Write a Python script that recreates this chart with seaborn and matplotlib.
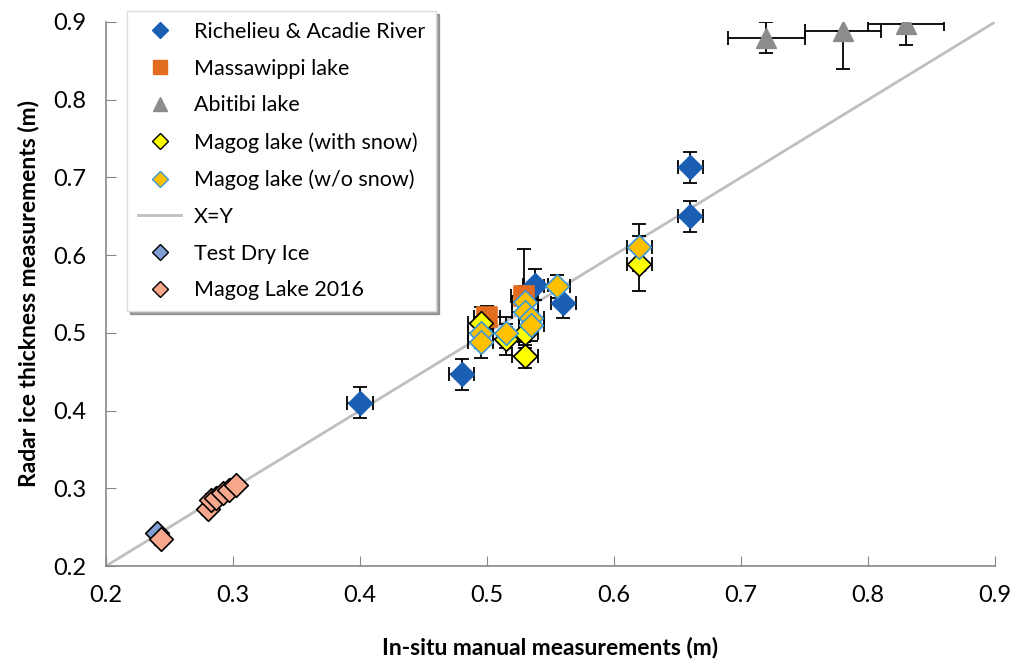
import matplotlib
matplotlib.use("Agg")
from matplotlib import pyplot as plt
from matplotlib.lines import Line2D
import numpy as np
import pandas as pd
import seaborn as sns

# Richelieu & Acadie River
rich_x = [0.40, 0.48, 0.538, 0.56, 0.66, 0.66]
rich_y = [0.41, 0.447, 0.562, 0.539, 0.713, 0.65]
rich_xerr = [0.01, 0.01, 0.01, 0.01, 0.01, 0.01]
rich_yerr = [0.02, 0.02, 0.02, 0.02, 0.02, 0.02]

# Massawippi lake
mass_x = [0.50, 0.529]
mass_y = [0.52, 0.548]
mass_xerr = [0.01, 0.01]
mass_yerr = [0.015, 0.06]

# Abitibi lake (asymmetric errors)
abi_x = [0.72, 0.78, 0.83]
abi_y = [0.88, 0.888, 0.898]
abi_xerr_lo = [0.03, 0.03, 0.03]
abi_xerr_hi = [0.03, 0.03, 0.03]
abi_yerr_lo = [0.02, 0.048, 0.028]
abi_yerr_hi = [0.02, 0.0, 0.0]

# Magog lake (with snow)
snow_x = [0.495, 0.515, 0.53, 0.53, 0.62]
snow_y = [0.513, 0.492, 0.50, 0.47, 0.589]
snow_xerr = [0.01, 0.01, 0.01, 0.01, 0.01]
snow_yerr = [0.02, 0.02, 0.02, 0.015, 0.035]

# Magog lake (w/o snow)
nosnow_x = [0.495, 0.495, 0.515, 0.53, 0.53, 0.535, 0.535, 0.555, 0.62]
nosnow_y = [0.50, 0.488, 0.50, 0.54, 0.527, 0.519, 0.51, 0.56, 0.61]
nosnow_xerr = [0.01] * 9
nosnow_yerr = [0.02, 0.02, 0.02, 0.02, 0.02, 0.02, 0.02, 0.015, 0.03]

# Test Dry Ice
dry_x = [0.24]
dry_y = [0.243]

# Magog Lake 2016
m16_x = [0.243, 0.28, 0.283, 0.287, 0.292, 0.297, 0.302]
m16_y = [0.235, 0.274, 0.285, 0.288, 0.294, 0.298, 0.304]
m16_err = [0.004] * 7

ticks = [0.2, 0.3, 0.4, 0.5, 0.6, 0.7, 0.8, 0.9]

plt.rcParams['font.family'] = ['Lato', 'DejaVu Sans']
fig = plt.figure(figsize=(10.13, 6.6), dpi=100)
ax = fig.add_axes([0.1046, 0.1424, 0.8777, 0.8243])

# X=Y line
sns.lineplot(x=[0.2, 0.9], y=[0.2, 0.9], color='#bfbfbf', linewidth=2, ax=ax, zorder=1)

ebkw = dict(fmt='none', ecolor='black', elinewidth=1.3, capsize=5, capthick=1.3, zorder=2)
ax.errorbar(rich_x, rich_y, xerr=rich_xerr, yerr=rich_yerr, **ebkw)
ax.errorbar(mass_x, mass_y, xerr=mass_xerr, yerr=mass_yerr, **ebkw)
ax.errorbar(abi_x, abi_y, xerr=[abi_xerr_lo, abi_xerr_hi], yerr=[abi_yerr_lo, abi_yerr_hi], **ebkw)
ax.errorbar(snow_x, snow_y, xerr=snow_xerr, yerr=snow_yerr, **ebkw)
ax.errorbar(nosnow_x, nosnow_y, xerr=nosnow_xerr, yerr=nosnow_yerr, **ebkw)
ax.errorbar(m16_x, m16_y, xerr=m16_err, yerr=m16_err, **ebkw)

groups = [
    ("Richelieu & Acadie River", rich_x, rich_y, 'D', '#1a5fb4', '#1a5fb4', 145),
    ("Massawippi lake", mass_x, mass_y, 's', '#e46c1e', '#e46c1e', 190),
    ("Abitibi lake", abi_x, abi_y, '^', '#8c8c8c', '#8c8c8c', 200),
    ("Magog lake (with snow)", snow_x, snow_y, 'D', '#ffff00', 'black', 145),
    ("Magog lake (w/o snow)", nosnow_x, nosnow_y, 'D', '#ffc000', '#3a9ad9', 145),
    ("Test Dry Ice", dry_x, dry_y, 'D', '#7f9fd4', 'black', 145),
    ("Magog Lake 2016", m16_x, m16_y, 'D', '#f7a88c', 'black', 145),
]
for name, xs, ys, mk, fc, ec, s in groups:
    sns.scatterplot(x=xs, y=ys, marker=mk, color=fc, edgecolor=ec, linewidth=1.2,
                    s=s, ax=ax, zorder=3, legend=False)

ax.set_xlim(0.2, 0.9)
ax.set_ylim(0.2, 0.9)
ax.set_xticks(ticks)
ax.set_yticks(ticks)
ax.set_xticklabels([f"{v:.1f}" for v in ticks])
ax.set_yticklabels([f"{v:.1f}" for v in ticks])
ax.tick_params(direction='in', length=7, color='#888888', labelsize=17)
ax.tick_params(axis='x', pad=14)
ax.tick_params(axis='y', pad=14)
for sp in ['top', 'right']:
    ax.spines[sp].set_visible(False)
for sp in ['left', 'bottom']:
    ax.spines[sp].set_color('#888888')
    ax.spines[sp].set_linewidth(1.2)
ax.set_xlabel("In-situ manual measurements (m)", fontsize=16.5, fontweight='bold', labelpad=22)
ax.set_ylabel("Radar ice thickness measurements (m)", fontsize=16.5, fontweight='bold', labelpad=10)

handles = []
for name, xs, ys, mk, fc, ec, s in groups[:5]:
    handles.append(Line2D([], [], linestyle='none', marker=mk, markerfacecolor=fc,
                          markeredgecolor=ec, markersize=10 if mk != 'D' else 8, label=name))
handles.append(Line2D([], [], color='#bfbfbf', linewidth=2, label='X=Y'))
for name, xs, ys, mk, fc, ec, s in groups[5:]:
    handles.append(Line2D([], [], linestyle='none', marker=mk, markerfacecolor=fc,
                          markeredgecolor=ec, markersize=8, label=name))
leg = ax.legend(handles=handles, loc='upper left', bbox_to_anchor=(0.012, 1.04),
                fontsize=15.5, frameon=True, fancybox=False, shadow=True,
                handlelength=2.0, handletextpad=0.6, labelspacing=0.78, borderpad=0.5)
leg.get_frame().set_edgecolor('#dddddd')

fig.savefig("out.png", dpi=100)
